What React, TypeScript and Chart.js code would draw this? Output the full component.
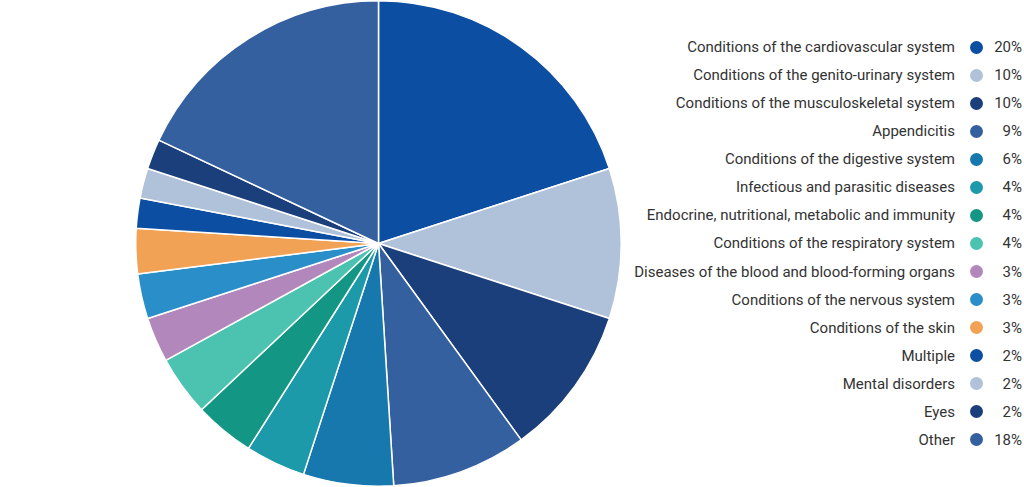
import React, { useEffect, useRef } from "react";
import { Chart, registerables } from "chart.js";

Chart.register(...registerables);

const categories = [
  "Conditions of the cardiovascular system",
  "Conditions of the genito-urinary system",
  "Conditions of the musculoskeletal system",
  "Appendicitis",
  "Conditions of the digestive system",
  "Infectious and parasitic diseases",
  "Endocrine, nutritional, metabolic and immunity",
  "Conditions of the respiratory system",
  "Diseases of the blood and blood-forming organs",
  "Conditions of the nervous system",
  "Conditions of the skin",
  "Multiple",
  "Mental disorders",
  "Eyes",
  "Other",
];

const shares = [20, 10, 10, 9, 6, 4, 4, 4, 3, 3, 3, 2, 2, 2, 18];

const shareLabels = ["20%", "10%", "10%", "9%", "6%", "4%", "4%", "4%", "3%", "3%", "3%", "2%", "2%", "2%", "18%"];

const colors = [
  "#0b4ea2",
  "#b0c1da",
  "#1b3f7a",
  "#3560a0",
  "#1778ad",
  "#1c9aa9",
  "#139683",
  "#4bc3b0",
  "#b288bc",
  "#2a8ec8",
  "#f2a254",
  "#0b4ea2",
  "#b0c1da",
  "#1b3f7a",
  "#3560a0",
];

export default function App() {
  const canvasRef = useRef<HTMLCanvasElement | null>(null);

  useEffect(() => {
    if (!canvasRef.current) return;
    const chart = new Chart(canvasRef.current, {
      type: "pie",
      data: {
        labels: categories,
        datasets: [
          {
            data: shares,
            backgroundColor: colors,
            borderColor: "#ffffff",
            borderWidth: 1.5,
          },
        ],
      },
      options: {
        responsive: false,
        animation: false,
        layout: { padding: 0 },
        plugins: {
          legend: { display: false },
          tooltip: { enabled: false },
        },
      },
    });
    return () => chart.destroy();
  }, []);

  return (
    <div
      style={{
        position: "fixed",
        left: 0,
        top: 0,
        width: 1024,
        height: 487,
        background: "#ffffff",
        fontFamily: "Roboto, 'Noto Sans', sans-serif",
      }}
    >
      <canvas
        ref={canvasRef}
        width={487}
        height={487}
        style={{ position: "absolute", left: 135, top: 0, width: 487, height: 487 }}
      />
      {categories.map((c, i) => {
        const cy = 47 + i * 28.07;
        return (
          <React.Fragment key={c}>
            <div
              style={{
                position: "absolute",
                right: 1024 - 955,
                top: cy - 10,
                height: 20,
                lineHeight: "20px",
                fontSize: 15,
                color: "#333333",
                whiteSpace: "nowrap",
                textAlign: "right",
              }}
            >
              {c}
            </div>
            <div
              style={{
                position: "absolute",
                left: 970,
                top: cy - 6.5,
                width: 13,
                height: 13,
                borderRadius: "50%",
                background: colors[i],
              }}
            />
            <div
              style={{
                position: "absolute",
                right: 1024 - 1022,
                top: cy - 10,
                height: 20,
                lineHeight: "20px",
                fontSize: 15,
                color: "#333333",
                whiteSpace: "nowrap",
                textAlign: "right",
              }}
            >
              {shareLabels[i]}
            </div>
          </React.Fragment>
        );
      })}
    </div>
  );
}
